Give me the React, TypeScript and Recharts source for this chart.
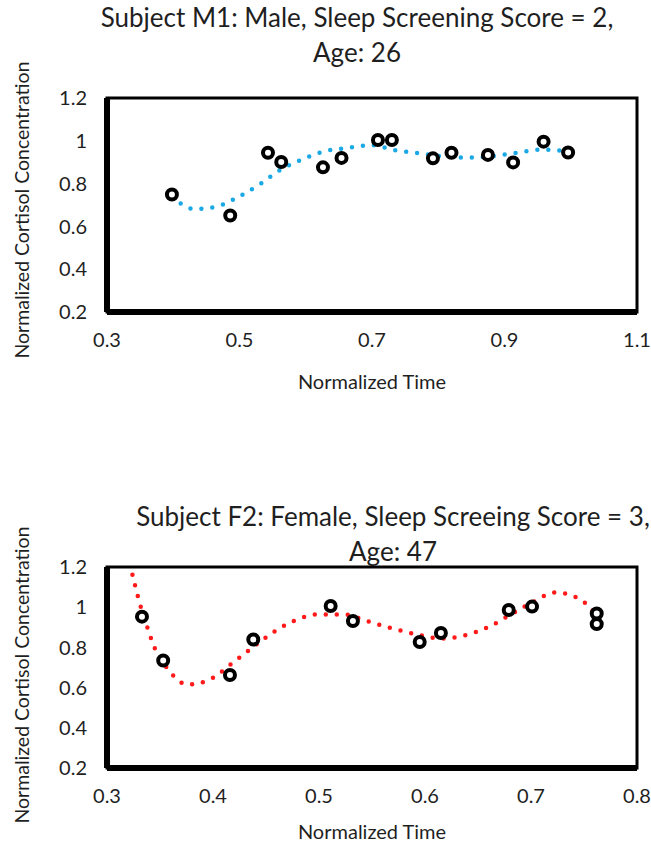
import React from 'react';
import { ComposedChart, Line, Scatter, XAxis, YAxis, ReferenceArea } from 'recharts';

// ---- Subject M1 ----
const m1Times = [0.398, 0.486, 0.543, 0.563, 0.626, 0.654, 0.709, 0.730, 0.792, 0.820, 0.875, 0.913, 0.959, 0.996];
const m1Cortisol = [0.749, 0.651, 0.944, 0.901, 0.876, 0.920, 1.004, 1.004, 0.918, 0.944, 0.934, 0.899, 0.996, 0.945];
const m1TrendTimes = [0.398, 0.432, 0.468, 0.500, 0.532, 0.562, 0.594, 0.627, 0.664, 0.699, 0.735, 0.771, 0.809, 0.845, 0.881, 0.919, 0.955, 0.993];
const m1TrendValues = [0.738, 0.681, 0.695, 0.741, 0.800, 0.865, 0.912, 0.950, 0.967, 0.980, 0.956, 0.942, 0.926, 0.922, 0.928, 0.944, 0.959, 0.952];
const m1XTicks = [0.3, 0.5, 0.7, 0.9, 1.1];

// ---- Subject F2 ----
const f2Times = [0.333, 0.353, 0.416, 0.438, 0.511, 0.532, 0.595, 0.615, 0.679, 0.701, 0.762, 0.762];
const f2Cortisol = [0.953, 0.735, 0.663, 0.839, 1.006, 0.931, 0.827, 0.872, 0.986, 1.003, 0.969, 0.916];
const f2TrendTimes = [0.324, 0.330, 0.337, 0.345, 0.358, 0.376, 0.398, 0.417, 0.436, 0.455, 0.476, 0.499, 0.523, 0.545, 0.568, 0.591, 0.615, 0.637, 0.660, 0.681, 0.701, 0.723, 0.745, 0.762];
const f2TrendValues = [1.162, 1.036, 0.916, 0.797, 0.688, 0.615, 0.643, 0.717, 0.794, 0.869, 0.931, 0.964, 0.964, 0.932, 0.896, 0.866, 0.844, 0.859, 0.902, 0.964, 1.023, 1.073, 1.044, 0.961];
const f2XTicks = [0.3, 0.4, 0.5, 0.6, 0.7, 0.8];

const yTicks = [0.2, 0.4, 0.6, 0.8, 1, 1.2];

const FONT = 'Lato, "Open Sans", sans-serif';
const TEXT = '#1f1f1f';

const zip = (xs: number[], ys: number[]) => xs.map((x, i) => ({ x, y: ys[i] }));

const Marker = (props: any) => (
  <circle cx={props.cx} cy={props.cy} r={5} fill="#fff" stroke="#000" strokeWidth={4} />
);

type PanelProps = {
  top: number;
  height: number;
  points: { x: number; y: number }[];
  trend: { x: number; y: number }[];
  xTicks: number[];
  color: string;
  xLabelOffset: number;
};

const Panel = ({ top, height, points, trend, xTicks, color, xLabelOffset }: PanelProps) => {
  const xMin = xTicks[0];
  const xMax = xTicks[xTicks.length - 1];
  return (
    <div style={{ position: 'absolute', left: 0, top }}>
      <ComposedChart width={651} height={height} margin={{ top: 98, right: 14, bottom: 8, left: 67 }}>
        <XAxis
          type="number"
          dataKey="x"
          domain={[xMin, xMax]}
          ticks={xTicks}
          allowDataOverflow
          height={80}
          tickLine={false}
          tickSize={0}
          tickMargin={21}
          axisLine={{ stroke: '#000', strokeWidth: 6 }}
          tick={{ fontFamily: FONT, fontSize: 20, fill: TEXT }}
          label={{ value: 'Normalized Time', position: 'insideBottom', offset: xLabelOffset, style: { fontFamily: FONT, fontSize: 20, fill: TEXT } }}
        />
        <YAxis
          type="number"
          dataKey="y"
          domain={[0.2, 1.2]}
          ticks={yTicks}
          allowDataOverflow
          width={40}
          tickLine={false}
          tickSize={0}
          tickMargin={20}
          axisLine={{ stroke: '#000', strokeWidth: 6 }}
          tick={{ fontFamily: FONT, fontSize: 20, fill: TEXT }}
        />
        <ReferenceArea x1={xMin} x2={xMax} y1={0.2} y2={1.2} fill="none" stroke="#000" strokeWidth={3} ifOverflow="visible" />
        <Scatter data={points} dataKey="y" shape={Marker} isAnimationActive={false} />
        <Line
          data={trend}
          dataKey="y"
          type="monotone"
          stroke={color}
          strokeWidth={4.5}
          strokeDasharray="0 11"
          strokeLinecap="round"
          dot={false}
          activeDot={false}
          isAnimationActive={false}
        />
      </ComposedChart>
    </div>
  );
};

const titleStyle = (top: number, center: number): React.CSSProperties => ({
  position: 'absolute',
  top,
  left: center - 325,
  width: 650,
  textAlign: 'center',
  fontFamily: FONT,
  fontSize: 26,
  lineHeight: '35px',
  color: TEXT,
  whiteSpace: 'nowrap',
});

const yLabelStyle = (centerY: number): React.CSSProperties => ({
  position: 'absolute',
  left: 22 - 160,
  top: centerY - 11,
  width: 320,
  height: 22,
  lineHeight: '22px',
  textAlign: 'center',
  fontFamily: FONT,
  fontSize: 19.5,
  color: TEXT,
  transform: 'rotate(-90deg)',
  whiteSpace: 'nowrap',
});

export default function App() {
  return (
    <div style={{ position: 'absolute', left: 0, top: 0, width: 651, height: 844, background: '#fff', overflow: 'hidden' }}>
      <Panel top={0} height={400} points={zip(m1Times, m1Cortisol)} trend={zip(m1TrendTimes, m1TrendValues)} xTicks={m1XTicks} color="#1ba9e6" xLabelOffset={3} />
      <Panel top={469} height={387} points={zip(f2Times, f2Cortisol)} trend={zip(f2TrendTimes, f2TrendValues)} xTicks={f2XTicks} color="#ff1a1a" xLabelOffset={9} />
      <div style={titleStyle(0, 357)}>
        Subject M1: Male, Sleep Screening Score = 2,
        <br />
        Age: 26
      </div>
      <div style={titleStyle(499, 393)}>
        Subject F2: Female, Sleep Screeing Score = 3,
        <br />
        Age: 47
      </div>
      <div style={yLabelStyle(210)}>Normalized Cortisol Concentration</div>
      <div style={yLabelStyle(675)}>Normalized Cortisol Concentration</div>
    </div>
  );
}
